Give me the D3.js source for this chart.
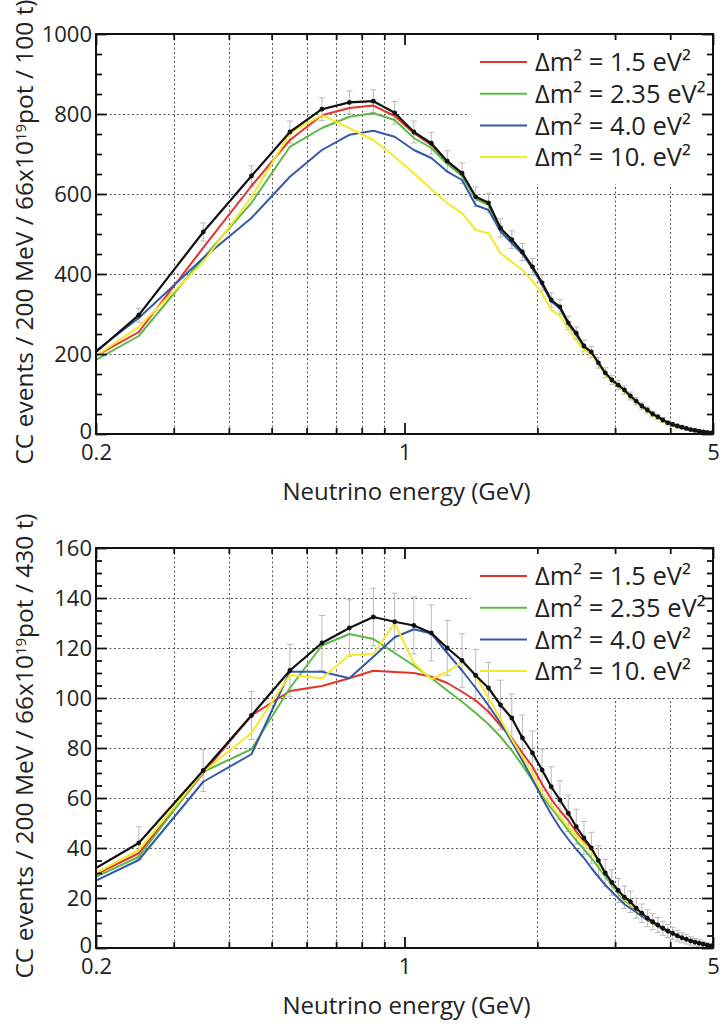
<!DOCTYPE html>
<html>
<head>
<meta charset="utf-8">
<script src="https://cdn.jsdelivr.net/npm/d3@7"></script>
<style>
  html, body { margin: 0; padding: 0; background: #fff; }
  svg { display: block; font-family: "Open Sans", sans-serif; }
</style>
</head>
<body>
<svg id="chart" width="723" height="1025"></svg>
<script>
// Neutrino energy (GeV): bin centres, with the first entry being the left edge of the axis
const energy = [0.2,0.25,0.35,0.45,0.55,0.65,0.75,0.85,0.95,1.05,1.15,1.25,1.35,1.45,1.55,1.65,1.75,1.85,1.95,2.05,2.15,2.25,2.35,2.45,2.55,2.65,2.75,2.85,2.95,3.05,3.15,3.25,3.35,3.45,3.55,3.65,3.75,3.85,3.95,4.05,4.15,4.25,4.35,4.45,4.55,4.65,4.75,4.85,4.95];

// Upper panel: CC events / 200 MeV / 66x10^19 pot / 100 t
const topNull    = [205,297,505,645,755,812,829,832,803,755,727,682,652,593,578,515,486,455,418,378,335,318,278,252,220,205,178,153,135,122,110,95,82,70,60,50,43,35,28,24,20,17,14,11,9,7,5,4,3];
const topErr     = [null,17.2,22.5,25.4,27.5,28.5,28.8,28.8,28.3,27.5,27,26.1,25.5,24.4,24,22.7,22,21.3,20.4,19.4,18.3,17.8,16.7,15.9,14.8,14.3,13.3,12.4,11.6,11,10.5,9.7,9.1,8.4,7.7,7.1,6.6,5.9,5.3,4.9,4.5,4.1,3.7,3.3,3,2.6,2.2,2,1.7];
const topDm1_5   = [195,255,466,620,735,797,815,821,795,752,723,680,648,590,575,512,484,453,416,376,333,316,277,250,219,204,177,152,134,121,109,94,81,69,59,49,42,34,27,23,19,16,13,10.5,8.5,6.5,5,4,3];
const topDm2_35  = [185,245,440,578,718,765,793,802,785,740,715,675,645,587,572,510,482,451,415,375,333,315,276,249,218,203,176,151,133,120,108,93,80,68,58,48,41,33,26,22,18,15,12,10,8,6,4.5,3.5,2.5];
const topDm4_0   = [208,290,440,540,643,710,748,758,743,710,690,656,635,572,560,506,477,450,414,373,332,314,275,248,218,203,176,151,133,120,108,93,80,68,58,48,41,33,26,22,18,15,12,10,8,6,4.5,3.5,2.5];
const topDm10    = [195,268,430,592,752,797,765,735,693,652,612,577,552,510,502,452,430,410,382,352,310,296,262,235,210,200,174,150,132,119,107,92,79,67,57,47,40,32,26,22,18,15,12,10,8,6,4.5,3.5,2.5];

// Lower panel: CC events / 200 MeV / 66x10^19 pot / 430 t
const botNull    = [32,42,71,93,111,122,128,132.4,130.5,129,126,120,115,109,104,97.2,92,84,78,71.2,64.5,59.2,53.9,48.5,44,40,35,30,26.2,23,20.3,18.5,15.9,13.9,11.9,10.5,9.2,7.9,6.8,5.9,4.9,4.1,3.5,2.8,2.3,1.9,1.5,1.1,0.8];
const botErr     = [null,6.5,8.4,9.6,10.5,11,11.3,11.5,11.4,11.4,11.2,11,10.7,10.4,10.2,9.9,9.6,9.2,8.8,8.4,8,7.7,7.3,7,6.6,6.3,5.9,5.5,5.1,4.8,4.5,4.3,4,3.7,3.4,3.2,3,2.8,2.6,2.4,2.2,2,1.9,1.7,1.5,1.4,1.2,1,0.9];
const botDm1_5   = [29.5,37.9,70,93,102.8,104.8,107.9,110.9,110.4,110,108.5,106,102.5,99,94.5,89,84,78,72.5,65.5,59.5,55,51,46.5,42.5,39,34.3,29.8,26,22.7,19.8,18,15.6,13.6,11.7,10.2,9,7.7,6.6,5.7,4.8,4,3.4,2.8,2.3,1.9,1.5,1.1,0.8];
const botDm2_35  = [28.5,36.5,70.5,79.5,104,121,125.6,123.6,118,113,108,103,98.5,94,89.5,84.5,79,73,67,61,56,51.5,47,43,39.5,36,32.3,28.6,25,21.8,19,17.2,15,13.1,11.3,9.9,8.7,7.5,6.4,5.5,4.7,3.9,3.3,2.7,2.2,1.8,1.4,1.1,0.8];
const botDm4_0   = [27,35.2,66.5,77.5,110.5,110.5,107.9,116.5,124.3,127.5,125.8,118,111,104,97,90,82.5,75,67.5,60,53.5,48,43.5,39.5,36,32,28.5,25.2,22.5,20,17.5,15.9,14.3,12.6,11.2,9.9,8.7,7.5,6.5,5.6,4.8,4,3.4,2.8,2.3,1.8,1.4,1.1,0.8];
const botDm10    = [30,39.2,70.5,86,109.2,107.9,117.2,117.6,129.9,114,107.5,110.5,114.3,109,100,91.5,83.5,76.5,70,62,57,52.5,48.5,45,41.8,38.8,34,29.6,25.8,22.5,19.6,17.6,15.4,13.5,11.6,10.1,8.9,7.7,6.6,5.7,4.8,4,3.4,2.8,2.3,1.9,1.5,1.1,0.8];

// Legend labels and line colours
const legendLabels = ["\u0394m\u00B2 = 1.5 eV\u00B2", "\u0394m\u00B2 = 2.35 eV\u00B2", "\u0394m\u00B2 = 4.0 eV\u00B2", "\u0394m\u00B2 = 10. eV\u00B2"];
const seriesColors = ["#e5332a", "#5cb947", "#3558a8", "#f4ea2a"];

// Axis ticks
const xMinorTicks = [0.3,0.4,0.5,0.6,0.7,0.8,0.9,2,3,4];
const xLabelTicks = [0.2,1,5];
const topYMajor = [0,200,400,600,800,1000];
const botYMajor = [0,20,40,60,80,100,120,140,160];

const svg = d3.select("#chart");
svg.append("rect").attr("width", 723).attr("height", 1025).attr("fill", "#fff");

const left = 96, right = 713;
const x = d3.scaleLog().domain([0.2, 5]).range([left, right]);

function panel(cfg) {
  const y = d3.scaleLinear().domain([0, cfg.ymax]).range([cfg.bottom, cfg.top]);
  const g = svg.append("g");
  const clipId = "clip" + cfg.id;
  svg.append("clipPath").attr("id", clipId)
    .append("rect").attr("x", left).attr("y", cfg.top)
    .attr("width", right - left).attr("height", cfg.bottom - cfg.top);

  // dotted grid
  const grid = g.append("g").attr("stroke", "#555").attr("stroke-width", 1)
    .attr("stroke-dasharray", "2,2.5").attr("fill", "none");
  grid.selectAll("line.v").data(xMinorTicks).join("line")
    .attr("x1", d => Math.round(x(d)) + 0.5).attr("x2", d => Math.round(x(d)) + 0.5)
    .attr("y1", cfg.top).attr("y2", cfg.bottom);
  grid.selectAll("line.h").data(cfg.yMajor.filter(v => v > 0 && v < cfg.ymax)).join("line")
    .attr("y1", d => Math.round(y(d)) + 0.5).attr("y2", d => Math.round(y(d)) + 0.5)
    .attr("x1", left).attr("x2", right);

  // legend background hides the grid underneath
  const lgX = 470, lgY = cfg.top + 1, lgW = right - 2 - lgX, lgH = 149;
  g.append("rect").attr("x", lgX).attr("y", lgY).attr("width", lgW).attr("height", lgH).attr("fill", "#fff");

  const plot = g.append("g").attr("clip-path", `url(#${clipId})`);

  // statistical error bars on the null prediction
  const eb = plot.append("g").attr("stroke", "#b9b9b9").attr("stroke-width", 1).attr("fill", "none");
  const errPts = energy.map((e, i) => ({ e, v: cfg.nullSeries[i], s: cfg.err[i] })).filter(d => d.s != null);
  eb.selectAll("path").data(errPts).join("path")
    .attr("d", d => {
      const cx = x(d.e), y1 = y(d.v + d.s), y2 = y(d.v - d.s);
      return `M${cx},${y1}V${y2}M${cx - 3},${y1}H${cx + 3}M${cx - 3},${y2}H${cx + 3}`;
    });

  const line = d3.line().x((d, i) => x(energy[i])).y(d => y(d));
  cfg.series.forEach((s, k) => {
    plot.append("path").datum(s).attr("d", line)
      .attr("fill", "none").attr("stroke", seriesColors[k]).attr("stroke-width", 2)
      .attr("stroke-linejoin", "round");
  });
  plot.append("path").datum(cfg.nullSeries).attr("d", line)
    .attr("fill", "none").attr("stroke", "#111").attr("stroke-width", 2.2)
    .attr("stroke-linejoin", "round");
  plot.selectAll("circle").data(errPts).join("circle")
    .attr("cx", d => x(d.e)).attr("cy", d => y(d.v)).attr("r", 2.4).attr("fill", "#111");

  // legend entries
  const lg = g.append("g");
  legendLabels.forEach((lab, k) => {
    const cy = cfg.top + 28 + k * 31.7;
    lg.append("line").attr("x1", 480).attr("x2", 527).attr("y1", cy).attr("y2", cy)
      .attr("stroke", seriesColors[k]).attr("stroke-width", 2);
    lg.append("text").attr("x", 535).attr("y", cy).attr("dy", "0.36em")
      .attr("font-size", 25.5).attr("fill", "#222").text(lab);
  });

  // ticks: inward on all four sides
  const axes = g.append("g").attr("font-family", "Open Sans, sans-serif");
  const yMinorVals = d3.range(0, cfg.ymax + 1e-9, cfg.yMinorStep).filter(v => !cfg.yMajor.includes(v));
  const axL = d3.axisLeft(y).tickValues(cfg.yMajor).tickSize(-11).tickSizeOuter(0).tickPadding(4).tickFormat(d3.format("d"));
  const axLm = d3.axisLeft(y).tickValues(yMinorVals).tickSize(-6).tickSizeOuter(0).tickFormat("");
  const axR = d3.axisRight(y).tickValues(cfg.yMajor).tickSize(-11).tickSizeOuter(0).tickFormat("");
  const axRm = d3.axisRight(y).tickValues(yMinorVals).tickSize(-6).tickSizeOuter(0).tickFormat("");
  const axB = d3.axisBottom(x).tickValues(xLabelTicks).tickSize(-11).tickSizeOuter(0).tickPadding(6).tickFormat(d3.format("~g"));
  const axBm = d3.axisBottom(x).tickValues(xMinorTicks).tickSize(-6).tickSizeOuter(0).tickFormat("");
  const axT = d3.axisTop(x).tickValues(xLabelTicks).tickSize(-11).tickSizeOuter(0).tickFormat("");
  const axTm = d3.axisTop(x).tickValues(xMinorTicks).tickSize(-6).tickSizeOuter(0).tickFormat("");

  const put = (ax, tr) => {
    const a = axes.append("g").attr("transform", tr).call(ax);
    a.select(".domain").remove();
    a.selectAll("line").attr("stroke", "#111").attr("stroke-width", 1.8);
    a.selectAll("text").attr("font-size", 22).attr("fill", "#222").attr("font-family", "Open Sans, sans-serif");
    return a;
  };
  put(axLm, `translate(${left},0)`);
  const l = put(axL, `translate(${left},0)`);
  // the zero label sits just above the 0.2 energy label
  l.selectAll("text").filter(d => d === 0).attr("dy", "0.2em");
  put(axRm, `translate(${right},0)`);
  put(axR, `translate(${right},0)`);
  put(axBm, `translate(0,${cfg.bottom})`);
  const b = put(axB, `translate(0,${cfg.bottom})`);
  b.selectAll("text").attr("dy", "0.93em");
  put(axTm, `translate(0,${cfg.top})`);
  put(axT, `translate(0,${cfg.top})`);

  // frame
  g.append("rect").attr("x", left).attr("y", cfg.top).attr("width", right - left)
    .attr("height", cfg.bottom - cfg.top).attr("fill", "none").attr("stroke", "#111").attr("stroke-width", 2);

  // axis titles
  g.append("text").attr("x", (left + right) / 2 + 2).attr("y", cfg.bottom + 66)
    .attr("text-anchor", "middle").attr("font-size", 24).attr("fill", "#222")
    .text("Neutrino energy (GeV)");
  const yt = g.append("text")
    .attr("transform", `translate(33,${(cfg.top + cfg.bottom) / 2 - 2}) rotate(-90)`)
    .attr("text-anchor", "middle").attr("font-size", 24.5).attr("fill", "#222");
  yt.append("tspan").text("CC events / 200 MeV / 66x10");
  yt.append("tspan").attr("dy", "-0.45em").attr("font-size", 15).text("19");
  yt.append("tspan").attr("dy", "0.29em").text("pot / " + cfg.mass);
}

panel({ id: "top", top: 34, bottom: 434, ymax: 1000, yMajor: topYMajor, yMinorStep: 50,
  nullSeries: topNull, err: topErr, series: [topDm1_5, topDm2_35, topDm4_0, topDm10], mass: "100 t)" });
panel({ id: "bot", top: 548, bottom: 948, ymax: 160, yMajor: botYMajor, yMinorStep: 5,
  nullSeries: botNull, err: botErr, series: [botDm1_5, botDm2_35, botDm4_0, botDm10], mass: "430 t)" });
</script>
</body>
</html>
